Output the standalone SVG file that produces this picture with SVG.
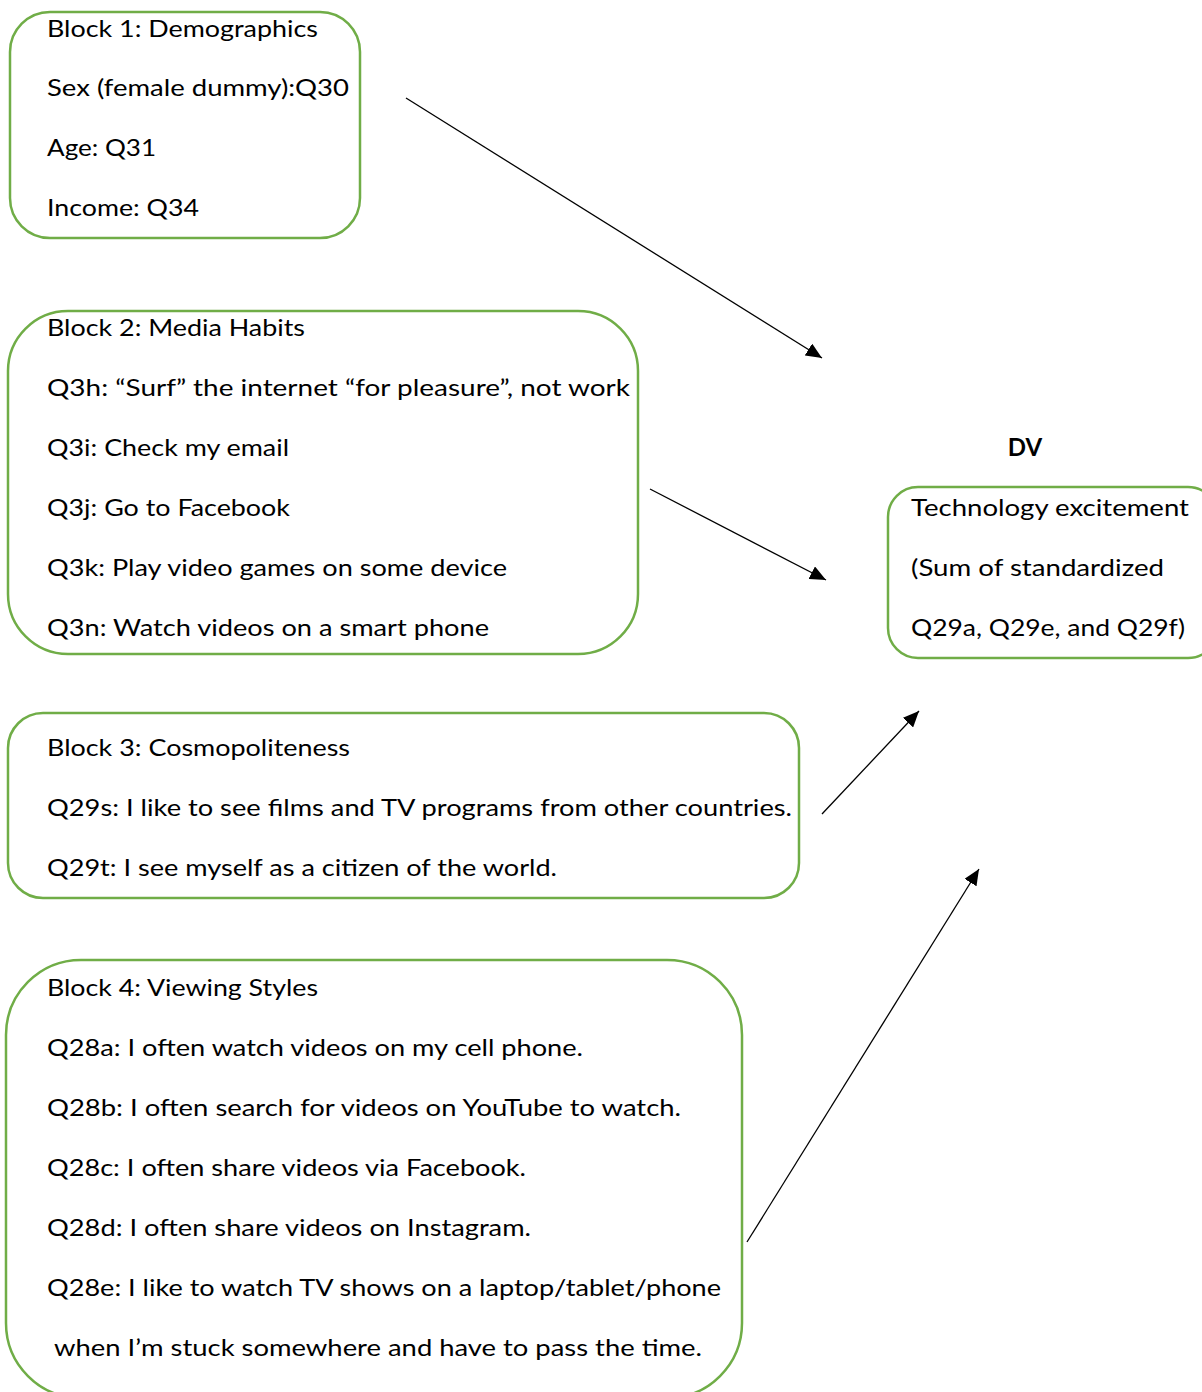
<svg xmlns="http://www.w3.org/2000/svg" width="1202" height="1392" viewBox="0 0 1202 1392">
<style>
.box{fill:#fff;stroke:#70AD47;stroke-width:2.5}
text{font-family:"Lato","Open Sans",sans-serif;font-size:24px;fill:#000}
.b{font-weight:bold}
.c{stroke:#000;stroke-width:1.3;fill:none}
</style>
<defs>
<marker id="ah" markerUnits="userSpaceOnUse" markerWidth="18" markerHeight="14" refX="16" refY="7" orient="auto">
<path d="M0,0 L16,7 L0,14 Z" fill="#000"/>
</marker>
</defs>
<rect width="1202" height="1392" fill="#fff"/>
<g id="block1">
<rect class="box" x="10" y="12" width="350" height="226" rx="40"/>
<text x="47" y="37" textLength="271" lengthAdjust="spacingAndGlyphs">Block 1: Demographics</text>
<text x="47" y="96" textLength="302" lengthAdjust="spacingAndGlyphs">Sex (female dummy):Q30</text>
<text x="47" y="156" textLength="109" lengthAdjust="spacingAndGlyphs">Age: Q31</text>
<text x="47" y="216" textLength="152" lengthAdjust="spacingAndGlyphs">Income: Q34</text>
</g>
<g id="block2">
<rect class="box" x="8" y="311" width="630" height="343" rx="60"/>
<text x="47" y="336" textLength="258" lengthAdjust="spacingAndGlyphs">Block 2: Media Habits</text>
<text x="47" y="396" textLength="583" lengthAdjust="spacingAndGlyphs">Q3h: “Surf” the internet “for pleasure”, not work</text>
<text x="47" y="456" textLength="242" lengthAdjust="spacingAndGlyphs">Q3i: Check my email</text>
<text x="47" y="516" textLength="243" lengthAdjust="spacingAndGlyphs">Q3j: Go to Facebook</text>
<text x="47" y="576" textLength="460" lengthAdjust="spacingAndGlyphs">Q3k: Play video games on some device</text>
<text x="47" y="636" textLength="442" lengthAdjust="spacingAndGlyphs">Q3n: Watch videos on a smart phone</text>
</g>
<g id="dv">
<text class="b" x="1025" y="456" text-anchor="middle">DV</text>
<rect class="box" x="888" y="487" width="330" height="171" rx="30"/>
<text x="911" y="516" textLength="278" lengthAdjust="spacingAndGlyphs">Technology excitement</text>
<text x="911" y="576" textLength="253" lengthAdjust="spacingAndGlyphs">(Sum of standardized</text>
<text x="911" y="636" textLength="274" lengthAdjust="spacingAndGlyphs">Q29a, Q29e, and Q29f)</text>
</g>
<g id="block3">
<rect class="box" x="8" y="713" width="791" height="185" rx="35"/>
<text x="47" y="756" textLength="303" lengthAdjust="spacingAndGlyphs">Block 3: Cosmopoliteness</text>
<text x="47" y="816" textLength="745" lengthAdjust="spacingAndGlyphs">Q29s: I like to see films and TV programs from other countries.</text>
<text x="47" y="876" textLength="510" lengthAdjust="spacingAndGlyphs">Q29t: I see myself as a citizen of the world.</text>
</g>
<g id="block4">
<rect class="box" x="6" y="960" width="736" height="438" rx="75"/>
<text x="47" y="996" textLength="271" lengthAdjust="spacingAndGlyphs">Block 4: Viewing Styles</text>
<text x="47" y="1056" textLength="536" lengthAdjust="spacingAndGlyphs">Q28a: I often watch videos on my cell phone.</text>
<text x="47" y="1116" textLength="634" lengthAdjust="spacingAndGlyphs">Q28b: I often search for videos on YouTube to watch.</text>
<text x="47" y="1176" textLength="479" lengthAdjust="spacingAndGlyphs">Q28c: I often share videos via Facebook.</text>
<text x="47" y="1236" textLength="484" lengthAdjust="spacingAndGlyphs">Q28d: I often share videos on Instagram.</text>
<text x="47" y="1296" textLength="674" lengthAdjust="spacingAndGlyphs">Q28e: I like to watch TV shows on a laptop/tablet/phone</text>
<text x="54" y="1356" textLength="648" lengthAdjust="spacingAndGlyphs">when I’m stuck somewhere and have to pass the time.</text>
</g>
<g id="connectors">
<line class="c" x1="406" y1="98" x2="822" y2="358" marker-end="url(#ah)"/>
<line class="c" x1="650" y1="489" x2="826" y2="580" marker-end="url(#ah)"/>
<line class="c" x1="822" y1="814" x2="919" y2="711" marker-end="url(#ah)"/>
<line class="c" x1="747" y1="1242" x2="979" y2="869" marker-end="url(#ah)"/>
</g>
</svg>
